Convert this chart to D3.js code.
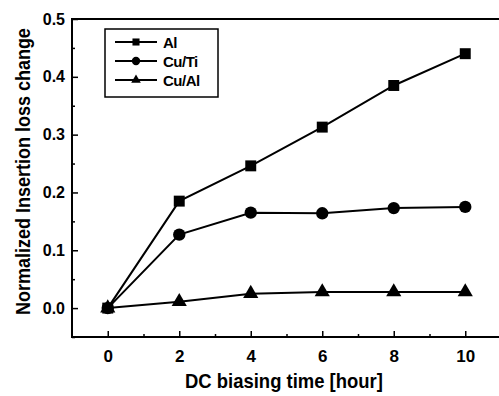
<!DOCTYPE html>
<html>
<head>
<meta charset="utf-8">
<script src="https://cdn.jsdelivr.net/npm/d3@7"></script>
<style>
  body { margin: 0; background: #fff; }
  text { font-family: "Liberation Sans", Arial, sans-serif; font-weight: bold; fill: #000; }
</style>
</head>
<body>
<div class="chart"></div>
<script>
// data
const hours = [0, 2, 4, 6, 8, 10];
const alValues = [0, 0.185, 0.246, 0.313, 0.385, 0.440];
const cuTiValues = [0, 0.127, 0.165, 0.164, 0.173, 0.175];
const cuAlValues = [0, 0.011, 0.025, 0.028, 0.028, 0.028];
const seriesNames = ["Al", "Cu/Ti", "Cu/Al"];
const seriesShapes = [d3.symbolSquare, d3.symbolCircle, d3.symbolTriangle];
const xTicks = [0, 2, 4, 6, 8, 10];
const yTicks = [0.0, 0.1, 0.2, 0.3, 0.4, 0.5];

const margin = {top: 19, right: -2, bottom: 59, left: 72};
const W = 499, H = 396;
const w = W - margin.left - margin.right;
const h = H - margin.top - margin.bottom;

const svg = d3.select(".chart")
    .append("svg")
    .attr("width", W)
    .attr("height", H)
    .append("g")
    .attr("transform", "translate(" + margin.left + "," + margin.top + ")");

const xScale = d3.scaleLinear().domain([-1, 11]).range([0, w]);
const yScale = d3.scaleLinear().domain([-0.05, 0.5]).range([h, 0]);

// frame: left, bottom, top (right side runs off the picture)
svg.append("path")
    .attr("d", `M${w},0 H0 V${h} H${w}`)
    .attr("fill", "none")
    .attr("stroke", "#000")
    .attr("stroke-width", 2);

// x axis, ticks pointing in
const xAxis = d3.axisBottom(xScale).tickValues(xTicks).tickSize(-6).tickPadding(13)
    .tickFormat(d3.format("d"));
const xg = svg.append("g").attr("transform", `translate(0,${h})`).call(xAxis);
xg.select(".domain").remove();
xg.selectAll("line").attr("stroke-width", 1.5);
xg.selectAll("text").style("font-size", "17px").attr("fill", "#000");

const xMinor = d3.axisBottom(xScale).tickValues([1, 3, 5, 7, 9]).tickSize(-3).tickFormat("");
const xmg = svg.append("g").attr("transform", `translate(0,${h})`).call(xMinor);
xmg.select(".domain").remove();
xmg.selectAll("line").attr("stroke-width", 1.5);

// y axis, ticks pointing in
const yAxis = d3.axisLeft(yScale).tickValues(yTicks).tickSize(-6).tickPadding(7)
    .tickFormat(d3.format(".1f"));
const yg = svg.append("g").call(yAxis);
yg.select(".domain").remove();
yg.selectAll("line").attr("stroke-width", 1.5);
yg.selectAll("text").style("font-size", "16px").attr("fill", "#000");

const yMinor = d3.axisLeft(yScale).tickValues([-0.05, 0.05, 0.15, 0.25, 0.35, 0.45]).tickSize(-3).tickFormat("");
const ymg = svg.append("g").call(yMinor);
ymg.select(".domain").remove();
ymg.selectAll("line").attr("stroke-width", 1.5);

// axis titles - the originals are in a narrow face, so squeeze them horizontally
function narrowText(g, str, size, width) {
    const t = g.append("text").style("font-size", size + "px").text(str);
    const natural = t.node().getComputedTextLength();
    t.attr("transform", `scale(${width / natural},1)`);
    return t;
}

const xTitle = svg.append("g").attr("transform", `translate(${185 - margin.left},${h + 51})`);
narrowText(xTitle, "DC biasing time [hour]", 21, 198);

const yTitle = svg.append("g")
    .attr("transform", `translate(${30 - margin.left},${315 - margin.top}) rotate(-90)`);
narrowText(yTitle, "Normalized Insertion loss change", 20, 287);

// lines + markers
const allSeries = [alValues, cuTiValues, cuAlValues];
const line = d3.line().x((d, i) => xScale(hours[i])).y(d => yScale(d));
const symbolSizes = [120, 120, 100];

allSeries.forEach((vals, k) => {
    svg.append("path")
        .datum(vals)
        .attr("d", line)
        .attr("fill", "none")
        .attr("stroke", "#000")
        .attr("stroke-width", 2);
    svg.selectAll(".m" + k)
        .data(vals)
        .enter().append("path")
        .attr("class", "m" + k)
        .attr("transform", (d, i) => `translate(${xScale(hours[i])},${yScale(d)})`)
        .attr("d", d3.symbol().type(seriesShapes[k]).size(symbolSizes[k]))
        .attr("fill", "#000");
});

// legend
const legendSizes = [50, 55, 40];
const lg = svg.append("g").attr("transform", `translate(${105 - margin.left},${29 - margin.top})`);
lg.append("rect")
    .attr("width", 113).attr("height", 68)
    .attr("fill", "#fff").attr("stroke", "#000").attr("stroke-width", 1.5);
seriesNames.forEach((name, k) => {
    const yy = 13 + k * 19;
    lg.append("line").attr("x1", 10).attr("x2", 52).attr("y1", yy).attr("y2", yy)
        .attr("stroke", "#000").attr("stroke-width", 2);
    lg.append("path")
        .attr("transform", `translate(31,${yy})`)
        .attr("d", d3.symbol().type(seriesShapes[k]).size(legendSizes[k]))
        .attr("fill", "#000");
    lg.append("text").attr("x", 58).attr("y", yy + 6)
        .style("font-size", "15px")
        .style("letter-spacing", "-0.5px")
        .text(name);
});
</script>
</body>
</html>
